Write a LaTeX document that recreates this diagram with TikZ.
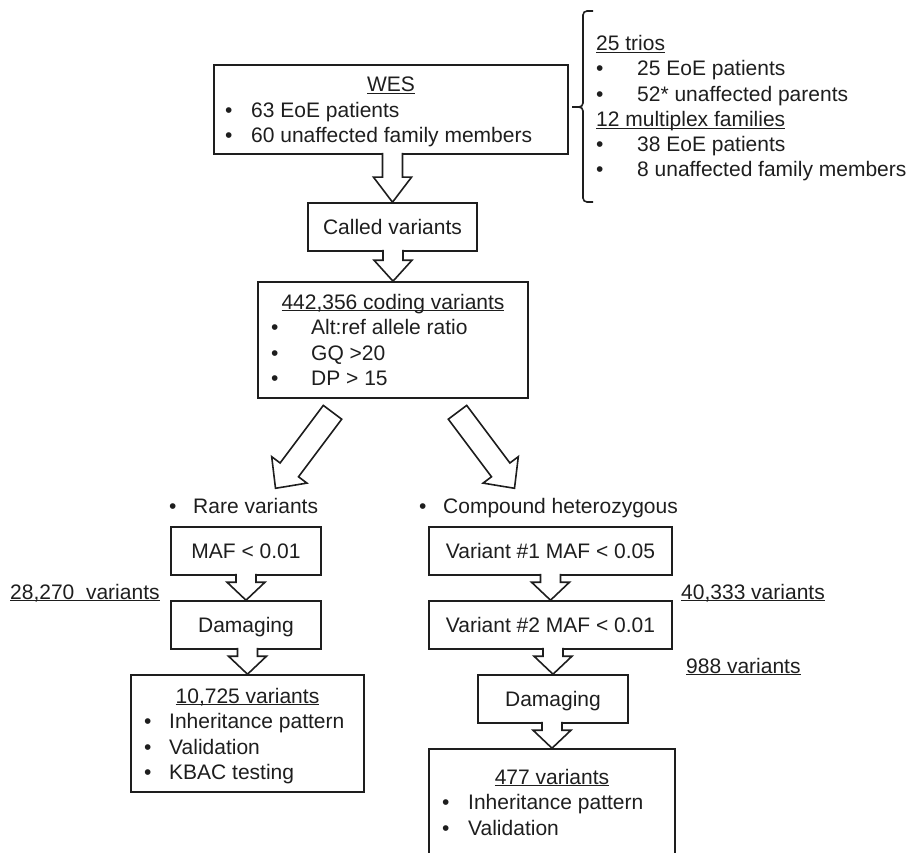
\documentclass[tikz,border=0pt]{standalone}
\usepackage{fontspec}
\setmainfont{Liberation Sans}
\usetikzlibrary{calc}
\definecolor{ink}{RGB}{30,30,30}
\newcommand\ul[1]{\underline{\smash{#1}}}
\newcommand\itm[2]{\makebox[#1][l]{\textbullet}#2}
\tikzset{
  box/.style={draw=ink, line width=1.6pt, fill=white, inner sep=0pt, text=ink,
              text height=15pt, text depth=0pt},
  txt/.style={inner sep=0pt, text=ink},
  barrow/.style={draw=ink, line width=1.6pt, fill=white, line join=miter},
  bracestyle/.style={draw=ink, line width=1.6pt, rounded corners=4pt},
}
% vertical block arrow from #1 (south) to #2 (north), head length #3
\newcommand\downblock[3]{%
  \draw[barrow] let \p1=(#1.south), \p2=(#2.north) in
    (\x2-10pt,\y1+2pt) -- (\x2-10pt,\y2+#3pt) -- (\x2-19pt,\y2+#3pt) -- (\x2,\y2)
    -- (\x2+19pt,\y2+#3pt) -- (\x2+10pt,\y2+#3pt) -- (\x2+10pt,\y1+2pt);}
\begin{document}
\begin{tikzpicture}[x=1pt,y=-1pt,font=\fontsize{21}{25}\selectfont]
\useasboundingbox (0,0) rectangle (910,853);

% ---------- boxes ----------
\node[box, minimum width=354, minimum height=89] (wes) at (391,109.5) {};
\node[box, minimum width=169, minimum height=48] (called) at (392.5,227) {Called variants};
\node[box, minimum width=270, minimum height=116] (cod) at (393,340) {};
\node[box, minimum width=150, minimum height=48] (maf) at (246,551) {MAF < 0.01};
\node[box, minimum width=150, minimum height=48] (dmgL) at (246,625) {Damaging};
\node[box, minimum width=233, minimum height=117] (resL) at (247.5,733.5) {};
\node[box, minimum width=243, minimum height=48] (var1) at (550.5,551) {Variant \#1 MAF < 0.05};
\node[box, minimum width=243, minimum height=48] (var2) at (550.5,625) {Variant \#2 MAF < 0.01};
\node[box, minimum width=150, minimum height=48] (dmgR) at (553,699) {Damaging};
\node[box, minimum width=246, minimum height=121] (resR) at (552,809.5) {};

% ---------- texts in WES ----------
\node[txt, anchor=base] (wesT) at (391,92) {\ul{WES}};
\node[txt, anchor=base west] (wes1) at (225,118) {\itm{26pt}{63 EoE patients}};
\node[txt, anchor=base west] (wes2) at (225,143) {\itm{26pt}{60 unaffected family members}};

% ---------- right block ----------
\node[txt, anchor=base west] (trios) at (596,51) {\ul{25 trios}};
\node[txt, anchor=base west] (tr1) at (596,76) {\itm{41pt}{25 EoE patients}};
\node[txt, anchor=base west] (tr2) at (596,101.5) {\itm{41pt}{52* unaffected parents}};
\node[txt, anchor=base west] (multi) at (596,127) {\ul{12 multiplex families}};
\node[txt, anchor=base west] (mu1) at (596,152) {\itm{41pt}{38 EoE patients}};
\node[txt, anchor=base west] (mu2) at (596,177) {\itm{41pt}{8 unaffected family members}};

% ---------- coding variants ----------
\node[txt, anchor=base] (codT) at (393,309) {\ul{442,356 coding variants}};
\node[txt, anchor=base west] (cod1) at (271,334.5) {\itm{40pt}{Alt:ref allele ratio}};
\node[txt, anchor=base west] (cod2) at (271,360) {\itm{40pt}{GQ >20}};
\node[txt, anchor=base west] (cod3) at (271,385.5) {\itm{40pt}{DP > 15}};

% ---------- branch headings ----------
\node[txt, anchor=base west] (rare) at (169,513) {\itm{24pt}{Rare variants}};
\node[txt, anchor=base west] (comp) at (419,513) {\itm{24pt}{Compound heterozygous}};

% ---------- counts ----------
\node[txt, anchor=base west] (c28) at (10,599) {\ul{28,270\ \ variants}};
\node[txt, anchor=base west] (c40) at (681,599) {\ul{40,333 variants}};
\node[txt, anchor=base west] (c988) at (686,673) {\ul{988 variants}};

% ---------- result boxes ----------
\node[txt, anchor=base] (resLT) at (247.5,703) {\ul{10,725 variants}};
\node[txt, anchor=base west] (resL1) at (144,728.5) {\itm{25pt}{Inheritance pattern}};
\node[txt, anchor=base west] (resL2) at (144,754) {\itm{25pt}{Validation}};
\node[txt, anchor=base west] (resL3) at (144,779.5) {\itm{25pt}{KBAC testing}};

\node[txt, anchor=base] (resRT) at (552,784) {\ul{477 variants}};
\node[txt, anchor=base west] (resR1) at (442,809.5) {\itm{26pt}{Inheritance pattern}};
\node[txt, anchor=base west] (resR2) at (442,835) {\itm{26pt}{Validation}};

% ---------- vertical block arrows ----------
\downblock{wes}{called}{25}
\downblock{called}{cod}{21}
\downblock{maf}{dmgL}{18}
\downblock{dmgL}{resL}{18}
\downblock{var1}{var2}{18}
\downblock{var2}{dmgR}{18}
\downblock{dmgR}{resR}{18}

% ---------- diagonal block arrows ----------
\coordinate (LT) at ($(cod.south)+(-60.5,13.5)$);
\coordinate (RT) at ($(cod.south)+(64.5,13.5)$);
\begin{scope}[shift={(LT)}]
  \draw[barrow] (-9.2,-6.9) -- (-52.4,50.7) -- (-60.8,44.4) -- (-57,76)
     -- (-25.6,70.8) -- (-34,64.5) -- (9.2,6.9) -- cycle;
\end{scope}
\begin{scope}[shift={(RT)}]
  \draw[barrow] (9.2,-6.9) -- (52.4,50.7) -- (60.8,44.4) -- (57,76)
     -- (25.6,70.8) -- (34,64.5) -- (-9.2,6.9) -- cycle;
\end{scope}

% ---------- brace ----------
\coordinate (brTip) at (572,107);
\draw[bracestyle] (593,11) -- (583,11) -- (583,107) -- (brTip);
\draw[bracestyle] (brTip) -- (583,107) -- (583,202) -- (593,202);
\end{tikzpicture}
\end{document}
